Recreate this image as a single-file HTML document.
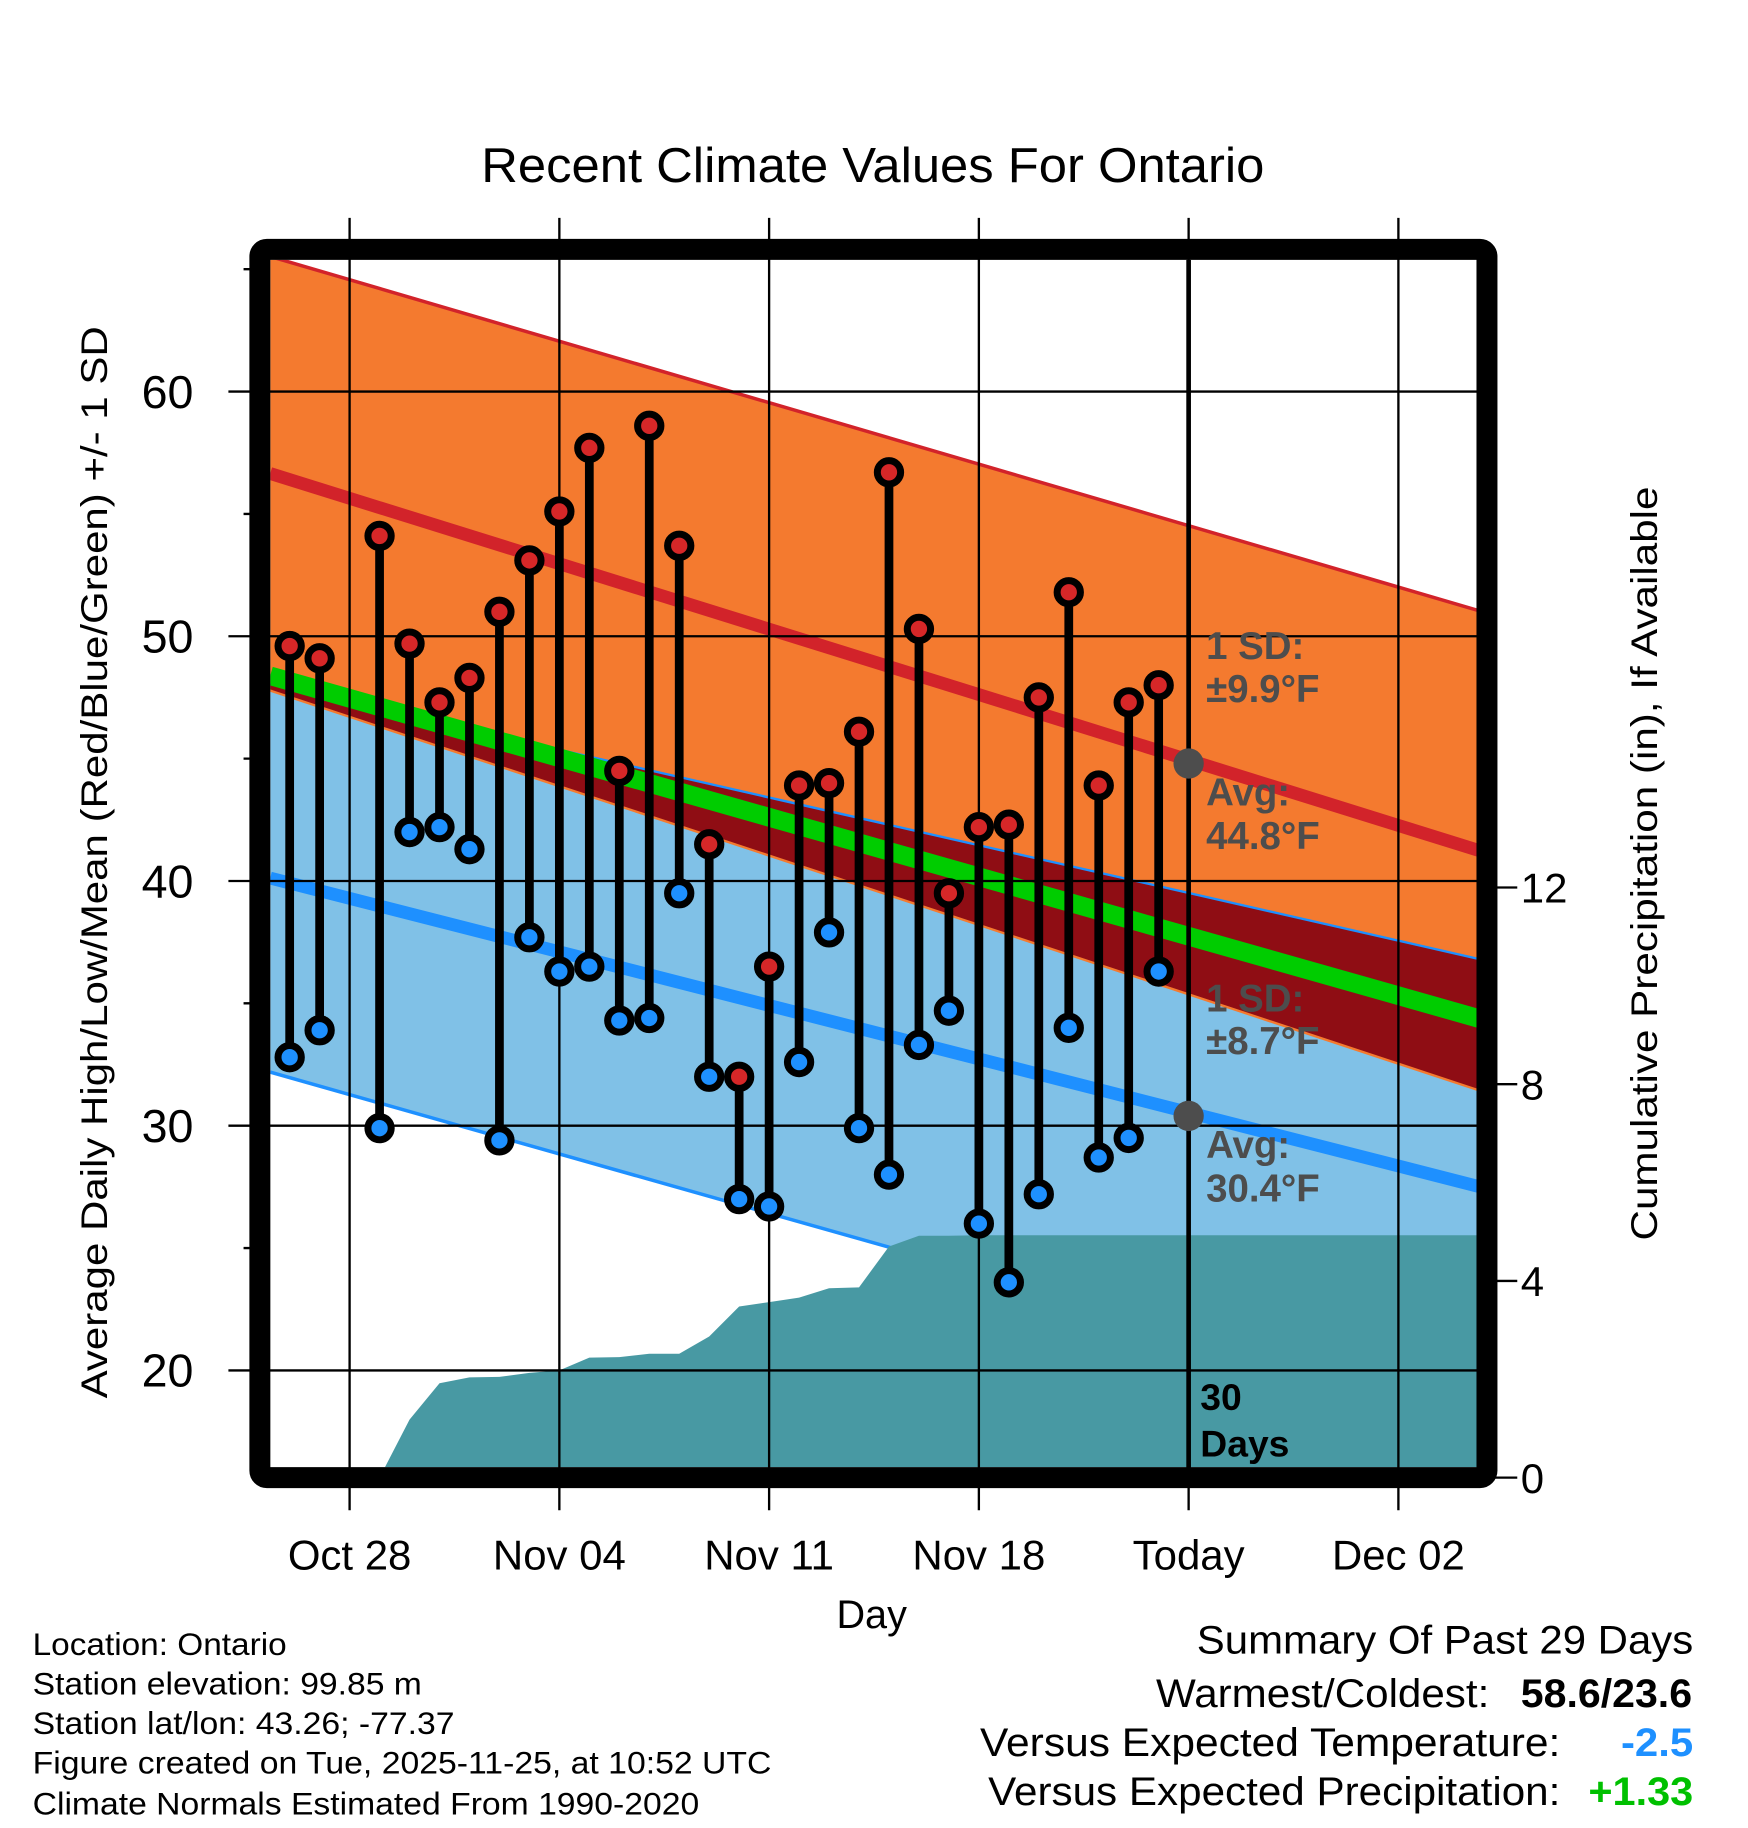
<!DOCTYPE html>
<html>
<head>
<meta charset="utf-8">
<style>
html,body{margin:0;padding:0;background:#fff;}
svg{display:block;font-family:"Liberation Sans",Arial,sans-serif;}
</style>
</head>
<body>
<svg id="chart" xmlns="http://www.w3.org/2000/svg" width="1748" height="1828" viewBox="0 0 1500 1568.65" preserveAspectRatio="none">
  <defs>
    <clipPath id="plotClip"><rect x="232" y="223" width="1036" height="1036"/></clipPath>
  </defs>
  <rect x="0" y="0" width="1500" height="1568.65" fill="#fff"/>
  <text x="413" y="156" font-size="42" textLength="672" lengthAdjust="spacingAndGlyphs">Recent Climate Values For Ontario</text>
  <g id="plot" clip-path="url(#plotClip)"></g>
  <g id="axes"></g>
  <rect x="223" y="214" width="1053" height="1054" rx="6" fill="none" stroke="#000" stroke-width="18"/>
  <g id="marks"></g>
  <text x="748" y="1397" font-size="34" text-anchor="middle">Day</text>
  <text transform="translate(92,740) rotate(-90)" font-size="32" text-anchor="middle" textLength="920" lengthAdjust="spacingAndGlyphs">Average Daily High/Low/Mean (Red/Blue/Green) +/- 1 SD</text>
  <text transform="translate(1422,741) rotate(-90)" font-size="32" text-anchor="middle" textLength="647" lengthAdjust="spacingAndGlyphs">Cumulative Precipitation (in), If Available</text>

  <g font-size="27">
    <text x="28" y="1420" textLength="218" lengthAdjust="spacingAndGlyphs">Location: Ontario</text>
    <text x="28" y="1454" textLength="334" lengthAdjust="spacingAndGlyphs">Station elevation: 99.85 m</text>
    <text x="28" y="1488" textLength="362" lengthAdjust="spacingAndGlyphs">Station lat/lon: 43.26; -77.37</text>
    <text x="28" y="1522" textLength="634" lengthAdjust="spacingAndGlyphs">Figure created on Tue, 2025-11-25, at 10:52 UTC</text>
    <text x="28" y="1557" textLength="572" lengthAdjust="spacingAndGlyphs">Climate Normals Estimated From 1990-2020</text>
  </g>
  <g font-size="34">
    <text x="1027" y="1419" textLength="426" lengthAdjust="spacingAndGlyphs">Summary Of Past 29 Days</text>
    <text x="992" y="1465" textLength="286" lengthAdjust="spacingAndGlyphs">Warmest/Coldest:</text>
    <text x="1305" y="1465" font-weight="bold" textLength="147" lengthAdjust="spacingAndGlyphs">58.6/23.6</text>
    <text x="841" y="1507" textLength="498" lengthAdjust="spacingAndGlyphs">Versus Expected Temperature:</text>
    <text x="1391" y="1507" font-weight="bold" fill="#1e90ff" textLength="62" lengthAdjust="spacingAndGlyphs">-2.5</text>
    <text x="848" y="1549" textLength="491" lengthAdjust="spacingAndGlyphs">Versus Expected Precipitation:</text>
    <text x="1363" y="1549" font-weight="bold" fill="#00c000" textLength="90" lengthAdjust="spacingAndGlyphs">+1.33</text>
  </g>
</svg>
<script>
// ---- data ----
const days = [-2,-1,0,1,2,3,4,5,6,7,8,9,10,11,12,13,14,15,16,17,18,19,20,21,22,23,24,25,26,27];
const highs = [49.6,49.1,null,54.1,49.7,47.3,48.3,51.0,53.1,55.1,57.7,44.5,58.6,53.7,41.5,32.0,36.5,43.9,44.0,46.1,56.7,50.3,39.5,42.2,42.3,47.5,51.8,43.9,47.3,48.0];
const lows  = [32.8,33.9,null,29.9,42.0,42.2,41.3,29.4,37.7,36.3,36.5,34.3,34.4,39.5,32.0,27.0,26.7,32.6,37.9,29.9,28.0,33.3,34.7,26.0,23.6,27.2,34.0,28.7,29.5,36.3];
const precip = [0,0,0,0,1.18,1.92,2.04,2.05,2.13,2.18,2.44,2.45,2.52,2.52,2.87,3.48,3.57,3.66,3.85,3.87,4.7,4.92,4.92,4.93,4.93,4.93,4.93,4.93,4.93,4.93];
const normDays = [-2.65, 37.7];
const highAvg = [56.65, 41.24];
const highSD = [8.87, 9.8];
const lowAvg = [40.12, 27.51];
const lowSD = [7.93, 9.3];
const xTickDays = [0,7,14,21,28,35];
const xTickLabels = ["Oct 28","Nov 04","Nov 11","Nov 18","Today","Dec 02"];
const yTicks = [20,30,40,50,60];
const yMinorTicks = [25,35,45,55,65];
const pTicks = [0,4,8,12];
const todayDay = 28;
const highAvgToday = 44.8, highSDToday = 9.9, lowAvgToday = 30.4, lowSDToday = 8.7;

// ---- scales ----
const X = d => 300 + d * 25.714;
const Y = t => 336 + (60 - t) * 21;
const YP = p => 1268 - p * 42.2;
const lerp = (arr, d) => arr[0] + (arr[1]-arr[0]) * (d - normDays[0]) / (normDays[1]-normDays[0]);
const NS = "http://www.w3.org/2000/svg";
function mk(tag, attrs, parent){
  const e = document.createElementNS(NS, tag);
  for (const k in attrs) e.setAttribute(k, attrs[k]);
  parent.appendChild(e);
  return e;
}
const plot = document.getElementById('plot');
const axes = document.getElementById('axes');
const marks = document.getElementById('marks');
const d0 = normDays[0], d1 = normDays[1];
const hTop = d => lerp(highAvg,d) + lerp(highSD,d);
const hBot = d => lerp(highAvg,d) - lerp(highSD,d);
const lTop = d => lerp(lowAvg,d) + lerp(lowSD,d);
const lBot = d => lerp(lowAvg,d) - lerp(lowSD,d);
const meanAvg = d => (lerp(highAvg,d) + lerp(lowAvg,d)) / 2;
function band(fTop, fBot){
  return `${X(d0)},${Y(fTop(d0))} ${X(d1)},${Y(fTop(d1))} ${X(d1)},${Y(fBot(d1))} ${X(d0)},${Y(fBot(d0))}`;
}
function line(f, stroke, w, name){
  const l = mk('line', {x1:X(d0), y1:Y(f(d0)), x2:X(d1), y2:Y(f(d1)), stroke:stroke, 'stroke-width':w}, plot);
  
  
}
let e;
e = mk('polygon', {points: band(hTop, hBot), fill:'#f47a2f'}, plot);


e = mk('polygon', {points: band(lTop, lBot), fill:'#80c1e7'}, plot);


e = mk('polygon', {points: band(lTop, hBot), fill:'#8f0d14'}, plot);


line(hTop, '#d2232a', 3, 'high-band-top-line');
line(hBot, '#f47a2f', 2, 'high-band-bottom-line');
line(lTop, '#1e90ff', 2, 'low-band-top-line');
line(lBot, '#1e90ff', 3, 'low-band-bottom-line');
line(d => lerp(highAvg,d), '#d2232a', 11, 'high-average-line');
line(d => lerp(lowAvg,d), '#1e90ff', 11, 'low-average-line');
line(meanAvg, '#00cc00', 16, 'mean-average-line');

// grid
yTicks.forEach(t => {
  e = mk('line', {x1:196, y1:Y(t), x2:1270, y2:Y(t), stroke:'#000', 'stroke-width':2}, axes);
  
  
  e = mk('text', {x:166, y:Y(t)+14, 'font-size':40, 'text-anchor':'end'}, axes);
  
  
  e.textContent = t;
});
yMinorTicks.forEach(t => {
  e = mk('line', {x1:209, y1:Y(t), x2:224, y2:Y(t), stroke:'#000', 'stroke-width':2}, axes);
  
  
});
xTickDays.forEach((d, i) => {
  e = mk('line', {x1:X(d), y1:187, x2:X(d), y2:1296, stroke:'#000', 'stroke-width':2}, axes);
  
  
  e = mk('text', {x:X(d), y:1347, 'font-size':36, 'text-anchor':'middle'}, axes);
  
  
  e.textContent = xTickLabels[i];
});
pTicks.forEach(p => {
  e = mk('line', {x1:1280, y1:YP(p), x2:1302, y2:YP(p), stroke:'#000', 'stroke-width':2}, axes);
  
  
  e = mk('text', {x:1305, y:YP(p)+13, 'font-size':36}, axes);
  
  
  e.textContent = p;
});

// precip area
let pts = [];
days.forEach((d, i) => pts.push(`${X(d)},${YP(precip[i])}`));
pts.push(`${X(d1)},${YP(precip[precip.length-1])}`);
pts.push(`${X(d1)},${YP(0)}`, `${X(days[0])},${YP(0)}`);
e = mk('polygon', {points: pts.join(' '), fill:'#4899a3'}, plot);



// today line
e = mk('line', {x1:X(todayDay), y1:223, x2:X(todayDay), y2:1260, stroke:'#000', 'stroke-width':4}, marks);



// stems and markers
days.forEach((d, i) => {
  if (highs[i] == null) return;
  const g = mk('g', {}, marks);
  
  
  e = mk('line', {x1:X(d), y1:Y(highs[i]), x2:X(d), y2:Y(lows[i]), stroke:'#000', 'stroke-width':7.5}, g);
  
  
  e = mk('circle', {cx:X(d), cy:Y(highs[i]), r:10, fill:'#d62728', stroke:'#000', 'stroke-width':6}, g);
  
  
  e = mk('circle', {cx:X(d), cy:Y(lows[i]), r:10, fill:'#1e90ff', stroke:'#000', 'stroke-width':6}, g);
  
  
});

// annotations
function annot(avg, sd, prefix){
  const cy = Y(avg);
  e = mk('circle', {cx:X(todayDay), cy:cy, r:13, fill:'#4d4d4d'}, marks);
  
  
  const lines = [["1 SD:", -89.6], ["\u00b1" + sd.toFixed(1) + "\u00b0F", -53], ["Avg:", 36], [avg.toFixed(1) + "\u00b0F", 73.4]];
  lines.forEach(([t, dy], k) => {
    e = mk('text', {x:1035, y:cy+dy, 'font-size':33, 'font-weight':'bold', fill:'#4d4d4d'}, marks);
    
    
    e.textContent = t;
  });
}
annot(highAvgToday, highSDToday, 'high');
annot(lowAvgToday, lowSDToday, 'low');
e = mk('text', {x:1030, y:1210, 'font-size':32, 'font-weight':'bold'}, marks);


e.textContent = "30";
e = mk('text', {x:1030, y:1250, 'font-size':32, 'font-weight':'bold'}, marks);


e.textContent = "Days";
</script>
</body>
</html>
